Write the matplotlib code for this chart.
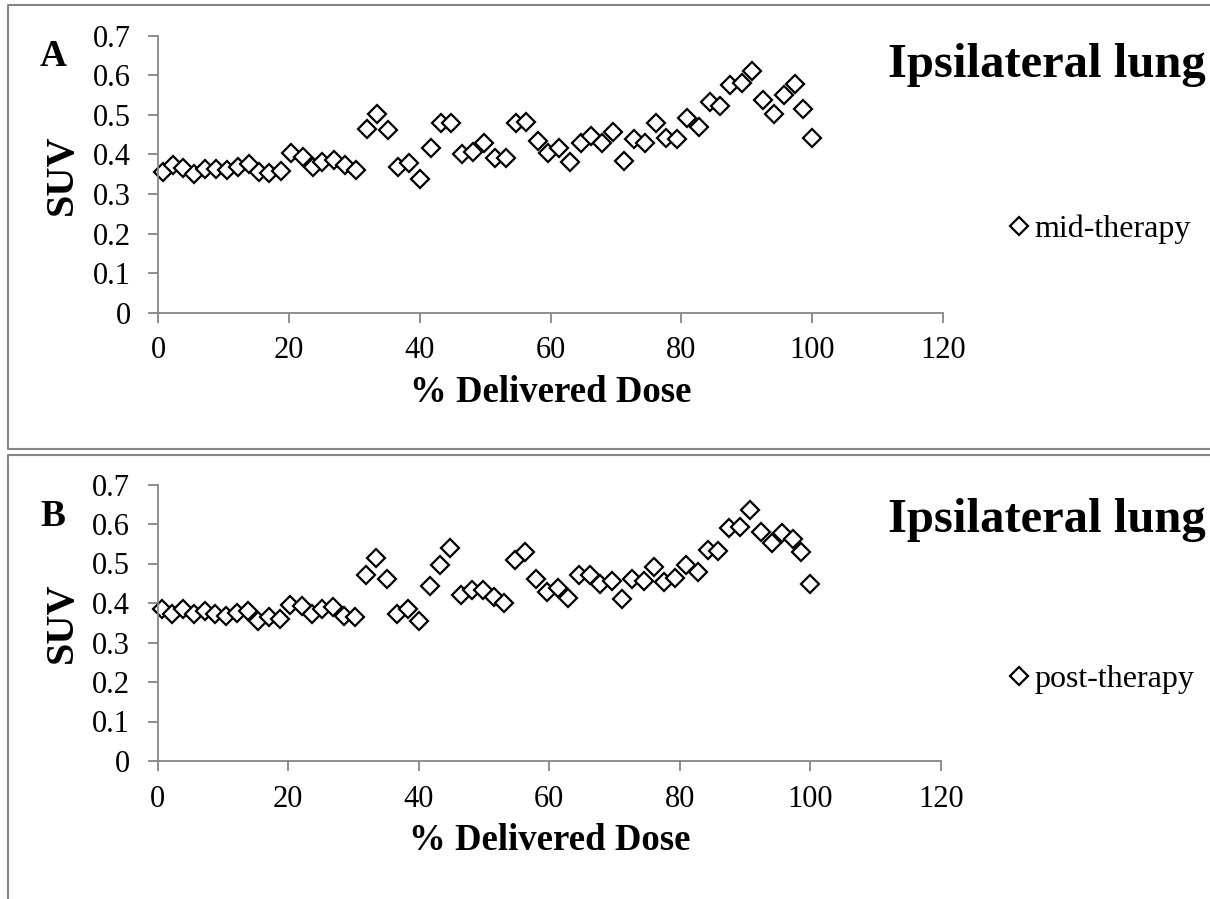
import matplotlib

matplotlib.use("Agg")
import matplotlib.pyplot as plt
from matplotlib.lines import Line2D

plt.rcParams["font.family"] = ["Liberation Serif", "DejaVu Serif"]

# % delivered dose at each scan
DOSE = [0.7, 2.2, 3.8, 5.5, 7.2, 8.8, 10.5, 12.2, 13.8, 15.4,
        17.0, 18.7, 20.3, 22.1, 23.6, 25.1, 26.9, 28.5, 30.2, 31.9,
        33.5, 35.1, 36.7, 38.4, 40.0, 41.7, 43.3, 44.8, 46.5, 48.2,
        49.8, 51.5, 53.1, 54.7, 56.3, 58.0, 59.6, 61.3, 62.9, 64.6,
        66.2, 67.8, 69.6, 71.2, 72.7, 74.5, 76.1, 77.6, 79.3, 80.9,
        82.7, 84.3, 85.9, 87.5, 89.2, 90.8, 92.5, 94.1, 95.7, 97.4,
        98.6, 100.0]

# SUV in the ipsilateral lung, mid-therapy scan
SUV_MID = [0.356, 0.373, 0.365, 0.351, 0.362, 0.363, 0.361, 0.367, 0.375, 0.356,
           0.352, 0.359, 0.404, 0.393, 0.367, 0.382, 0.386, 0.373, 0.361, 0.464,
           0.502, 0.462, 0.367, 0.378, 0.337, 0.417, 0.480, 0.480, 0.401, 0.407,
           0.428, 0.392, 0.392, 0.479, 0.481, 0.433, 0.404, 0.415, 0.382, 0.430,
           0.447, 0.428, 0.457, 0.384, 0.438, 0.428, 0.480, 0.441, 0.438, 0.491,
           0.470, 0.533, 0.522, 0.575, 0.580, 0.612, 0.538, 0.502, 0.550, 0.577,
           0.515, 0.442]

# SUV in the ipsilateral lung, post-therapy scan
SUV_POST = [0.386, 0.372, 0.385, 0.372, 0.379, 0.371, 0.366, 0.375, 0.379, 0.355,
            0.365, 0.360, 0.396, 0.393, 0.371, 0.385, 0.389, 0.368, 0.365, 0.472,
            0.514, 0.461, 0.371, 0.385, 0.355, 0.442, 0.497, 0.540, 0.419, 0.434,
            0.434, 0.415, 0.400, 0.508, 0.530, 0.462, 0.428, 0.438, 0.413, 0.470,
            0.472, 0.447, 0.455, 0.410, 0.462, 0.455, 0.491, 0.454, 0.464, 0.496,
            0.478, 0.533, 0.531, 0.589, 0.593, 0.635, 0.580, 0.553, 0.578, 0.561,
            0.529, 0.449]

X_TICKS = [0, 20, 40, 60, 80, 100, 120]
Y_TICKS = [0, 0.1, 0.2, 0.3, 0.4, 0.5, 0.6, 0.7]
Y_TICKLABELS = ["0", "0.1", "0.2", "0.3", "0.4", "0.5", "0.6", "0.7"]

W, H = 1210, 899
GRAY = "#868686"


def fx(px):
    return px / W


def fy(py):
    return 1 - py / H


def frame_line(xs, ys):
    fig.add_artist(Line2D([fx(x) for x in xs], [fy(y) for y in ys],
                          transform=fig.transFigure, color=GRAY, lw=1.5,
                          solid_capstyle="butt"))


fig = plt.figure(figsize=(W / 100, H / 100), dpi=100)

# chart-area frames: top panel closed at the bottom, lower panel runs off the page
frame_line([1215, 8, 8, 1215], [5, 5, 449, 449])
frame_line([1215, 8, 8], [455, 455, 905])

panels = [
    # axes rect px (left, top, right, bottom), letter y, title baseline y, legend y
    dict(rect=(158.3, 35.7, 943.0, 312.7), letter_y=56, title_y=77,
         legend_y=229, letter="A", suv=SUV_MID, name="mid-therapy"),
    dict(rect=(157.7, 484.5, 941.0, 761.0), letter_y=517, title_y=532,
         legend_y=679, letter="B", suv=SUV_POST, name="post-therapy"),
]

for p in panels:
    l, t, r, b = p["rect"]
    ax = fig.add_axes([fx(l), fy(b), fx(r - l), (b - t) / H])
    ax.plot(DOSE, p["suv"], ls="none", marker="D", ms=9.0, mfc="white",
            mec="black", mew=1.6, label=p["name"], clip_on=False)
    ax.set_xlim(0, 120)
    ax.set_ylim(0, 0.7)
    ax.set_xticks(X_TICKS)
    ax.set_yticks(Y_TICKS)
    ax.set_yticklabels(Y_TICKLABELS)
    for side in ["top", "right"]:
        ax.spines[side].set_visible(False)
    for side in ["left", "bottom"]:
        ax.spines[side].set_color(GRAY)
        ax.spines[side].set_linewidth(1.3)
    ax.tick_params(axis="both", direction="out", length=7, width=1.3,
                   color=GRAY, labelsize=22, labelcolor="black")
    ax.tick_params(axis="y", pad=13)
    ax.tick_params(axis="x", pad=10)
    ax.set_xlabel("% Delivered Dose", fontsize=26.5, fontweight="bold")
    ax.xaxis.set_label_coords(0.5, -0.225)
    ax.set_ylabel("SUV", fontsize=29, fontweight="bold", va="center")
    ax.yaxis.set_label_coords(-0.122, 0.5)

    fig.text(fx(53), fy(p["letter_y"]), p["letter"], fontsize=27,
             fontweight="bold", ha="center", va="center")
    fig.text(fx(888), fy(p["title_y"]), "Ipsilateral lung", fontsize=35,
             fontweight="bold", ha="left", va="baseline")
    ax.legend(loc="center left", bbox_to_anchor=(fx(1009), fy(p["legend_y"])),
              bbox_transform=fig.transFigure, frameon=False, fontsize=23,
              handlelength=0.6, handletextpad=0.2, borderpad=0,
              borderaxespad=0)

fig.savefig("out.png", dpi=100, facecolor="white")
